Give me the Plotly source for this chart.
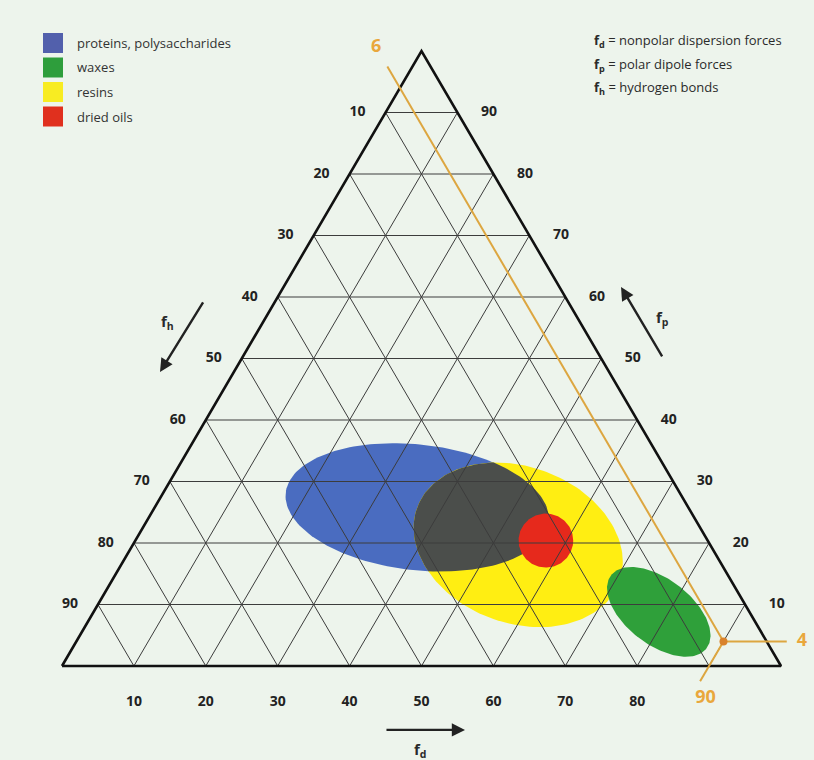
import numpy as np
import plotly.graph_objects as go

# ---------------- data ----------------
tick_values = [10, 20, 30, 40, 50, 60, 70, 80, 90]

region_names = ["proteins, polysaccharides", "waxes", "resins", "dried oils"]
# region centres (percent dispersion f_d, percent polar f_p)
region_fd = [36.5, 78.6, 53.6, 57.1]
region_fp = [25.8, 8.8, 19.7, 20.4]
# semi-axes (percent units) and tilt (degrees) of each region outline
region_major = [18.4, 8.4, 15.0, 3.8]
region_minor = [8.85, 4.6, 11.0, 3.8]
region_tilt = [-6.5, -38.0, -21.0, 0.0]

# worked example: a solvent with f_d = 90, f_p = 4, f_h = 6
example_fd = 90
example_fp = 4
example_fh = 6

# ---------------- styles ----------------
region_colors = ["#4A6CC0", "#2FA03A", "#FFEE12", "#E6291C"]
legend_colors = ["#5260AC", "#2E9E3C", "#F8EC22", "#E0301E"]
overlap_color = "#4B4E4B"
grid_color = "#3C3C3C"
guide_color = "#DDA640"
guide_text = "#E9A73C"
bg = "#EDF4EC"
FONT = "Open Sans"
W, H = 814, 760

SQ3 = np.sqrt(3) / 2


def to_xy(fd, fp):
    """Project ternary fractions (f_d, f_p) onto the plane of an equilateral triangle."""
    fd = np.asarray(fd, dtype=float)
    fp = np.asarray(fp, dtype=float)
    return fd + fp / 2.0, fp * SQ3


def ellipse(fd, fp, a, b, tilt, n=180):
    cx, cy = to_xy(fd, fp)
    t = np.linspace(0, 2 * np.pi, n, endpoint=False)
    th = np.radians(tilt)
    ex, ey = a * np.cos(t), b * np.sin(t)
    x = cx + ex * np.cos(th) - ey * np.sin(th)
    y = cy + ex * np.sin(th) + ey * np.cos(th)
    return list(zip(x, y))


def clip_convex(subject, clipper):
    """Sutherland-Hodgman clipping of one convex polygon by another (CCW)."""
    def inside(p, a, b):
        return (b[0] - a[0]) * (p[1] - a[1]) - (b[1] - a[1]) * (p[0] - a[0]) >= 0

    def intersect(p, q, a, b):
        x1, y1 = p; x2, y2 = q; x3, y3 = a; x4, y4 = b
        den = (x1 - x2) * (y3 - y4) - (y1 - y2) * (x3 - x4)
        t = ((x1 - x3) * (y3 - y4) - (y1 - y3) * (x3 - x4)) / den
        return (x1 + t * (x2 - x1), y1 + t * (y2 - y1))

    out = subject
    for i in range(len(clipper)):
        a, b = clipper[i], clipper[(i + 1) % len(clipper)]
        inp, out = out, []
        if not inp:
            break
        s = inp[-1]
        for e in inp:
            if inside(e, a, b):
                if not inside(s, a, b):
                    out.append(intersect(s, e, a, b))
                out.append(e)
            elif inside(s, a, b):
                out.append(intersect(s, e, a, b))
            s = e
    return out


fig = go.Figure()

# ---------------- regions ----------------
shapes = [ellipse(region_fd[i], region_fp[i], region_major[i], region_minor[i], region_tilt[i])
          for i in range(len(region_names))]


def add_poly(pts, color):
    xs = [p[0] for p in pts] + [pts[0][0]]
    ys = [p[1] for p in pts] + [pts[0][1]]
    fig.add_trace(go.Scatter(x=xs, y=ys, mode="lines", fill="toself", fillcolor=color,
                             line=dict(width=0, color=color), hoverinfo="skip",
                             showlegend=False))


for i in [0, 2]:  # proteins, resins
    add_poly(shapes[i], region_colors[i])
# where proteins and resins overlap the print turns dark grey
add_poly(clip_convex(shapes[0], shapes[2]), overlap_color)
for i in [3, 1]:  # dried oils, waxes
    add_poly(shapes[i], region_colors[i])

# ---------------- grid ----------------
gx, gy = [], []
for v in tick_values:
    # constant f_p (horizontal)
    x, y = to_xy([0, 100 - v], [v, v]); gx += list(x) + [None]; gy += list(y) + [None]
    # constant f_d
    x, y = to_xy([v, v], [0, 100 - v]); gx += list(x) + [None]; gy += list(y) + [None]
    # constant f_h
    x, y = to_xy([0, 100 - v], [100 - v, 0]); gx += list(x) + [None]; gy += list(y) + [None]
fig.add_trace(go.Scatter(x=gx, y=gy, mode="lines", line=dict(color=grid_color, width=1),
                         hoverinfo="skip", showlegend=False))

# triangle outline
tx, ty = to_xy([0, 100, 0, 0], [0, 0, 100, 0])
fig.add_trace(go.Scatter(x=tx, y=ty, mode="lines", line=dict(color="#111111", width=2.6),
                         hoverinfo="skip", showlegend=False))

# ---------------- tick labels ----------------
tick_font = dict(family=FONT, size=14, color="#222222")
BOTTOM_OFF, SIDE_OFF_L, SIDE_OFF_R = 5.1, 3.9, 4.4

# bottom (f_d): the example's own value is printed in the guide colour instead
bottom_ticks = np.array([v for v in tick_values if v != example_fd], dtype=float)
bx, by = to_xy(bottom_ticks, 0 * bottom_ticks)
fig.add_trace(go.Scatter(x=bx, y=by - BOTTOM_OFF, mode="text",
                         text=[str(int(v)) for v in bottom_ticks],
                         texttemplate="<b>%{text}</b>", textfont=tick_font,
                         hoverinfo="skip", showlegend=False))
tv = np.array(tick_values, dtype=float)
lx, ly = to_xy(0 * tv, 100 - tv)
fig.add_trace(go.Scatter(x=lx - SIDE_OFF_L, y=ly, mode="text",
                         text=[str(v) for v in tick_values],
                         texttemplate="<b>%{text}</b>", textfont=tick_font,
                         hoverinfo="skip", showlegend=False))
rx, ry = to_xy(100 - tv, tv)
fig.add_trace(go.Scatter(x=rx + SIDE_OFF_R, y=ry, mode="text",
                         text=[str(v) for v in tick_values],
                         texttemplate="<b>%{text}</b>", textfont=tick_font,
                         hoverinfo="skip", showlegend=False))

# ---------------- worked example guides ----------------
ex_fp_top = 97.5              # f_h line runs up past the left edge
ex_fd_right = 98.8            # f_p line runs out past the right edge
ex_fp_low = -2.5              # f_d line runs down past the base
segs = [
    to_xy([example_fd, 100 - example_fh - ex_fp_top], [example_fp, ex_fp_top]),
    to_xy([example_fd, ex_fd_right], [example_fp, example_fp]),
    to_xy([example_fd, example_fd], [example_fp, ex_fp_low]),
]
ox, oy = [], []
for x, y in segs:
    ox += list(x) + [None]; oy += list(y) + [None]
fig.add_trace(go.Scatter(x=ox, y=oy, mode="lines", line=dict(color=guide_color, width=2),
                         hoverinfo="skip", showlegend=False))
px_, py_ = to_xy([example_fd], [example_fp])
fig.add_trace(go.Scatter(x=px_, y=py_, mode="markers",
                         marker=dict(color="#D9822C", size=8), hoverinfo="skip",
                         showlegend=False))
# labels: f_h at the top of its guide, f_p right of its guide, f_d on the tick row
l6x, l6y = to_xy([100 - example_fh - 100.6], [100.6])
l4x, l4y = to_xy([100.9], [example_fp])
l90x, l90y = to_xy([example_fd], [0])
fig.add_trace(go.Scatter(x=[l6x[0], l4x[0], l90x[0] - 0.5],
                         y=[l6y[0], l4y[0], l90y[0] - BOTTOM_OFF + 0.5],
                         mode="text",
                         text=[str(example_fh), str(example_fp), str(example_fd)],
                         texttemplate="<b>%{text}</b>",
                         textfont=dict(family=FONT, size=18, color=guide_text),
                         hoverinfo="skip", showlegend=False))

# ---------------- legend ----------------
for k, (name, col) in enumerate(zip(region_names, legend_colors)):
    cy = 43 + 24.5 * k
    fig.add_shape(type="rect", xref="paper", yref="paper",
                  x0=43 / W, x1=63 / W, y0=1 - (cy + 10) / H, y1=1 - (cy - 10) / H,
                  fillcolor=col, line=dict(width=0), layer="above")
    fig.add_annotation(x=75 / W, y=1 - cy / H, xref="paper", yref="paper",
                       xanchor="left", yanchor="middle", text=name, showarrow=False,
                       font=dict(family=FONT, size=13, color="#333333"))

# ---------------- axis arrows ----------------
arrows = [((13.63, 41.41), (19.75, 51.41), (14.7, 48.4), "<b>f<sub>h</sub></b>"),
          ((77.75, 53.38), (83.59, 43.38), (83.5, 49.0), "<b>f<sub>p</sub></b>"),
          ((56.05, -9.0), (44.92, -9.0), (49.8, -11.8), "<b>f<sub>d</sub></b>")]
for head, tail, lab, txt in arrows:
    fig.add_annotation(x=head[0], y=head[1], ax=tail[0], ay=tail[1], xref="x", yref="y",
                       axref="x", ayref="y", text="", showarrow=True, arrowhead=2,
                       arrowsize=1.1, arrowwidth=2.4, arrowcolor="#222222", standoff=0)
    fig.add_annotation(x=lab[0], y=lab[1], xref="x", yref="y", text=txt, showarrow=False,
                       font=dict(family=FONT, size=15, color="#2A2A2A"))

# ---------------- definitions ----------------
defs = ["<b>f<sub>d</sub></b> = nonpolar dispersion forces",
        "<b>f<sub>p</sub></b> = polar dipole forces",
        "<b>f<sub>h</sub></b> = hydrogen bonds"]
for k, t in enumerate(defs):
    fig.add_annotation(x=592 / W, y=1 - (41 + 23.5 * k) / H, xref="paper", yref="paper",
                       xanchor="left", yanchor="middle", text=t, showarrow=False,
                       font=dict(family=FONT, size=13, color="#2A2A2A"))

fig.update_layout(
    width=W, height=H,
    margin=dict(l=0, r=0, t=0, b=0),
    paper_bgcolor=bg, plot_bgcolor=bg,
    xaxis=dict(range=[-8.623, 104.59], visible=False, fixedrange=True),
    yaxis=dict(range=[-13.237, 93.785], visible=False, fixedrange=True),
    showlegend=False,
)

fig.write_html("out.html")
